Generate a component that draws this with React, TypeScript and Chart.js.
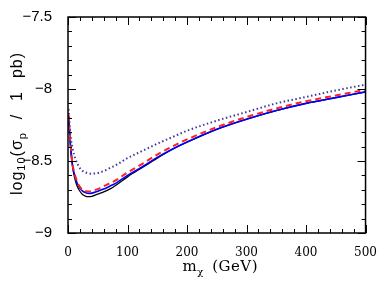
import React, { useEffect, useRef } from "react";
import { Chart, registerables } from "chart.js";

Chart.register(...registerables);

const massGeV = [1, 3, 5, 8, 12, 16, 20, 25, 30, 35, 40, 50, 60, 70, 80, 100, 125, 150, 175, 200, 250, 300, 350, 400, 450, 500];

const blackSolid = [-8.19, -8.33, -8.44, -8.55, -8.63, -8.68, -8.71, -8.735, -8.745, -8.747, -8.745, -8.73, -8.715, -8.695, -8.67, -8.61, -8.545, -8.48, -8.42, -8.37, -8.28, -8.21, -8.15, -8.1, -8.06, -8.02];
const blueSolid = [-8.19, -8.32, -8.43, -8.54, -8.61, -8.66, -8.69, -8.71, -8.72, -8.725, -8.723, -8.71, -8.695, -8.675, -8.655, -8.6, -8.54, -8.475, -8.418, -8.368, -8.28, -8.21, -8.15, -8.1, -8.06, -8.02];
const redDashed = [-8.18, -8.31, -8.42, -8.53, -8.6, -8.65, -8.68, -8.7, -8.71, -8.712, -8.708, -8.695, -8.675, -8.655, -8.635, -8.58, -8.52, -8.455, -8.4, -8.35, -8.265, -8.195, -8.135, -8.085, -8.045, -8.005];
const blueDotted = [-8.14, -8.27, -8.35, -8.42, -8.48, -8.52, -8.55, -8.57, -8.58, -8.585, -8.588, -8.583, -8.57, -8.55, -8.53, -8.48, -8.43, -8.38, -8.335, -8.29, -8.22, -8.16, -8.1, -8.055, -8.01, -7.97];

const xTicks = [0, 100, 200, 300, 400, 500];
const yTicks = [-9, -8.5, -8, -7.5];

const SERIF = "'DejaVu Serif', 'Liberation Serif', serif";
const SANS = "'Liberation Sans', Arial, sans-serif";

function pts(ys: number[]) {
  return massGeV.map((x, i) => ({ x, y: ys[i] }));
}

type Part = [string, number, number];

// draws text parts (size, baseline shift) centred on x; extra width goes mostly into spaces
function drawParts(ctx: any, parts: Part[], family: string, targetWidth: number, x: number, y: number, spaceShare: number) {
  const chars: [string, number, number, number][] = [];
  let natural = 0;
  for (const [t, size, dy] of parts) {
    ctx.font = `${size}px ${family}`;
    for (const ch of Array.from(t)) {
      const w = ctx.measureText(ch).width;
      chars.push([ch, size, dy, w]);
      natural += w;
    }
  }
  const extra = Math.max(0, targetWidth - natural);
  const nSpaces = chars.filter((c) => c[0] === " ").length;
  const spaceExtra = nSpaces ? (extra * spaceShare) / nSpaces : 0;
  const gap = chars.length > 1 ? (extra - spaceExtra * nSpaces) / (chars.length - 1) : 0;
  let cx = x - (natural + extra) / 2;
  ctx.textAlign = "left";
  for (const [ch, size, dy, w] of chars) {
    ctx.font = `${size}px ${family}`;
    ctx.fillText(ch, cx, y + dy);
    cx += w + gap + (ch === " " ? spaceExtra : 0);
  }
}

const framePlugin = {
  id: "frameTicks",
  afterDraw(chart: any) {
    const { ctx, chartArea, scales } = chart;
    const { left, right, top, bottom } = chartArea;
    const xs = scales.x;
    const ys = scales.y;
    ctx.save();
    ctx.strokeStyle = "#000";
    ctx.lineWidth = 1;
    ctx.beginPath();
    for (let v = 0; v <= 500; v += 20) {
      const px = Math.round(xs.getPixelForValue(v)) + 0.5;
      const len = v % 100 === 0 ? 8 : 4;
      ctx.moveTo(px, bottom);
      ctx.lineTo(px, bottom - len);
      ctx.moveTo(px, top);
      ctx.lineTo(px, top + len);
    }
    for (let k = 0; k <= 15; k++) {
      const v = -9 + k * 0.1;
      const py = Math.round(ys.getPixelForValue(v)) + 0.5;
      const len = k % 5 === 0 ? 8 : 4;
      ctx.moveTo(left, py);
      ctx.lineTo(left + len, py);
      ctx.moveTo(right, py);
      ctx.lineTo(right - len, py);
    }
    ctx.stroke();
    ctx.lineWidth = 1.5;
    ctx.strokeRect(left, top, right - left, bottom - top);

    ctx.fillStyle = "#000";
    ctx.textBaseline = "alphabetic";
    // x title
    drawParts(
      ctx,
      [
        ["m", 15, 0],
        ["χ", 10, 4],
        [" (GeV)", 15, 0],
      ],
      SERIF,
      75,
      220,
      271,
      0.5
    );

    // y title rotated
    ctx.translate(22, 124);
    ctx.rotate(-Math.PI / 2);
    drawParts(
      ctx,
      [
        ["log", 16, 0],
        ["10", 11, 3],
        ["(σ", 16, 0],
        ["p", 11, 4],
        [" / 1 pb)", 16, 0],
      ],
      SANS,
      142,
      0,
      0,
      0.6
    );
    ctx.restore();
  },
};

export default function App() {
  const ref = useRef<HTMLCanvasElement | null>(null);
  useEffect(() => {
    if (!ref.current) return;
    const chart = new Chart(ref.current, {
      type: "line",
      data: {
        datasets: [
          {
            label: "red dashed",
            data: pts(redDashed),
            borderColor: "#ff2020",
            borderWidth: 2,
            borderDash: [6, 4],
            pointRadius: 0,
            cubicInterpolationMode: "monotone",
            order: 1,
          },
          {
            label: "blue solid",
            data: pts(blueSolid),
            borderColor: "#0000ff",
            borderWidth: 1.6,
            pointRadius: 0,
            cubicInterpolationMode: "monotone",
            order: 2,
          },
          {
            label: "black solid",
            data: pts(blackSolid),
            borderColor: "#000000",
            borderWidth: 1.3,
            pointRadius: 0,
            cubicInterpolationMode: "monotone",
            order: 3,
          },
          {
            label: "blue dotted",
            data: pts(blueDotted),
            borderColor: "#3a3aa0",
            borderWidth: 2,
            borderDash: [1.5, 2.5],
            pointRadius: 0,
            cubicInterpolationMode: "monotone",
            order: 0,
          },
        ],
      },
      options: {
        animation: false,
        responsive: false,
        maintainAspectRatio: false,
        layout: { padding: { top: 14, right: 16, left: 0, bottom: 0 } },
        plugins: { legend: { display: false }, tooltip: { enabled: false } },
        scales: {
          x: {
            type: "linear",
            min: 0,
            max: 500,
            grid: { display: false },
            border: { display: false },
            afterBuildTicks: (s: any) => {
              s.ticks = xTicks.map((v) => ({ value: v }));
            },
            afterFit: (s: any) => {
              s.height = 49;
            },
            ticks: {
              color: "#000",
              font: { family: SERIF, size: 12 },
              padding: 5,
              maxRotation: 0,
              callback: (v: any) => String(v),
            },
          },
          y: {
            type: "linear",
            min: -9,
            max: -7.5,
            grid: { display: false },
            border: { display: false },
            afterBuildTicks: (s: any) => {
              s.ticks = yTicks.map((v) => ({ value: v }));
            },
            afterFit: (s: any) => {
              s.width = 68;
            },
            ticks: {
              color: "#000",
              font: { family: SANS, size: 15 },
              padding: 8,
              callback: (v: any) => "\u2212" + String(Math.abs(Number(v))),
            },
          },
        },
      },
      plugins: [framePlugin],
    });
    return () => chart.destroy();
  }, []);
  return (
    <div style={{ position: "fixed", left: 0, top: 0, width: 382, height: 282, background: "#fff" }}>
      <canvas ref={ref} width={382} height={282} style={{ width: 382, height: 282 }} />
    </div>
  );
}
